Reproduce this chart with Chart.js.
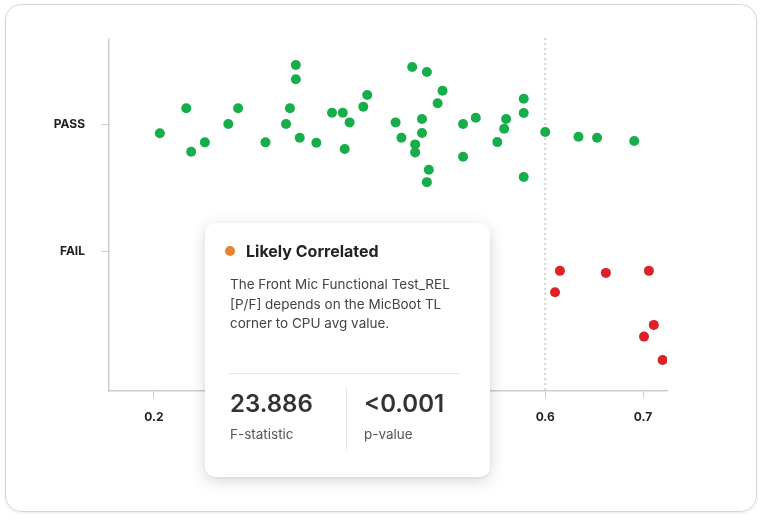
<!DOCTYPE html>
<html>
<head>
<meta charset="utf-8">
<script src="https://cdn.jsdelivr.net/npm/chart.js@4.4.1/dist/chart.umd.min.js"></script>
<style>
  html, body { margin: 0; padding: 0; background: #fff; }
  body { width: 763px; height: 520px; position: relative; overflow: hidden; font-family: Inter, "Noto Sans", sans-serif; }
  .frame {
    position: absolute; left: 5px; top: 4px; width: 750px; height: 506px;
    border: 1px solid #d6d6d6; border-radius: 16px;
    box-shadow: 0 1px 3px rgba(0,0,0,0.08);
  }
  #chart { position: absolute; left: 0; top: 0; }
  .card {
    position: absolute; left: 205px; top: 223px; width: 285px; height: 254px;
    background: #fff; border-radius: 10px;
    box-shadow: 0 4px 16px rgba(0,0,0,0.16), 0 1px 3px rgba(0,0,0,0.06);
    color: #333;
  }
  .card .title { position: absolute; left: 20px; top: 18px; font-size: 16px; font-weight: 700; color: #222; line-height: 20px; }
  .card .dot { position: absolute; left: 20px; top: 23px; width: 10px; height: 10px; border-radius: 50%; background: #e8822e; }
  .card .title span { margin-left: 21px; }
  .card .desc { position: absolute; left: 25px; top: 52px; width: 250px; font-size: 13.5px; line-height: 19.7px; color: #444; white-space: nowrap; }
  .card .sep { position: absolute; left: 24px; top: 150px; width: 231px; height: 1px; background: #e6e6e6; }
  .card .vsep { position: absolute; left: 141px; top: 164px; width: 1px; height: 63px; background: #e6e6e6; }
  .card .num { position: absolute; top: 166px; font-size: 24px; font-weight: 600; color: #333; line-height: 30px; }
  .card .lbl { position: absolute; top: 203px; font-size: 13.5px; color: #555; line-height: 16px; }
</style>
</head>
<body>
<div class="frame"></div>
<canvas id="chart" width="763" height="520"></canvas>
<div class="card">
  <div class="dot"></div>
  <div class="title"><span>Likely Correlated</span></div>
  <div class="desc">The Front Mic Functional Test_REL<br>[P/F] depends on the MicBoot TL<br>corner to CPU avg value.</div>
  <div class="sep"></div>
  <div class="num" style="left:25px">23.886</div>
  <div class="lbl" style="left:25px">F-statistic</div>
  <div class="vsep"></div>
  <div class="num" style="left:159px">&lt;0.001</div>
  <div class="lbl" style="left:159px">p-value</div>
</div>
<script>
// PASS points: x = measured value, y = jittered position around PASS (1)
const passX = [0.206, 0.233, 0.238, 0.252, 0.276, 0.286, 0.314, 0.335, 0.339, 0.345, 0.345,
  0.349, 0.366, 0.382, 0.393, 0.400, 0.395, 0.414, 0.418, 0.447, 0.453, 0.464, 0.479,
  0.495, 0.490, 0.474, 0.474, 0.467, 0.467, 0.481, 0.479, 0.516, 0.529, 0.516, 0.560,
  0.558, 0.551, 0.578, 0.578, 0.578, 0.600, 0.634, 0.653, 0.691];
const passY = [0.927, 1.124, 0.782, 0.856, 1.000, 1.124, 0.856, 1.000, 1.124, 1.465, 1.352,
  0.892, 0.853, 1.089, 1.089, 1.013, 0.803, 1.136, 1.228, 1.013, 0.892, 1.449, 1.409,
  1.262, 1.163, 1.039, 0.929, 0.840, 0.777, 0.640, 0.543, 1.000, 1.050, 0.743, 1.039,
  0.963, 0.858, 1.199, 1.087, 0.583, 0.937, 0.900, 0.892, 0.866];

// FAIL points: jittered below FAIL (0)
const failX = [0.615, 0.610, 0.662, 0.706, 0.711, 0.701, 0.720];
const failY = [-0.155, -0.323, -0.171, -0.155, -0.580, -0.672, -0.856];

const xTicks = [0.2, 0.3, 0.4, 0.5, 0.6, 0.7];
const yTicks = [0, 1];
const yTickLabels = ['FAIL', 'PASS'];
const threshold = 0.6;

const toPoints = (xs, ys) => xs.map((x, i) => ({ x: x, y: ys[i] }));

const thresholdLine = {
  id: 'thresholdLine',
  beforeDatasetsDraw(chart) {
    const { ctx, chartArea, scales } = chart;
    const px = scales.x.getPixelForValue(threshold);
    ctx.save();
    ctx.strokeStyle = '#d2d2d2';
    ctx.lineWidth = 2;
    ctx.setLineDash([2, 3]);
    ctx.beginPath();
    ctx.moveTo(px, chartArea.top - 1);
    ctx.lineTo(px, chartArea.bottom);
    ctx.stroke();
    ctx.restore();
  }
};

const axisColor = '#cdcdcd';
const tickFont = { family: 'Inter', size: 12, weight: '700' };

new Chart(document.getElementById('chart').getContext('2d'), {
  type: 'scatter',
  data: {
    datasets: [
      {
        label: 'PASS',
        data: toPoints(passX, passY),
        backgroundColor: '#17ad4b',
        pointRadius: 5,
        pointBorderWidth: 0,
      },
      {
        label: 'FAIL',
        data: toPoints(failX, failY),
        backgroundColor: '#dc2128',
        pointRadius: 5,
        pointBorderWidth: 0,
      },
    ],
  },
  options: {
    responsive: false,
    animation: false,
    layout: { padding: { left: 0, right: 96, top: 39, bottom: 79 } },
    plugins: { legend: { display: false }, tooltip: { enabled: false } },
    scales: {
      x: {
        type: 'linear',
        min: 0.154,
        max: 0.7245,
        afterBuildTicks: (axis) => { axis.ticks = xTicks.map((v) => ({ value: v })); },
        afterFit: (axis) => { axis.height = 50; },
        ticks: {
          color: '#222',
          font: tickFont,
          padding: 12,
          callback: (v) => v.toFixed(1),
        },
        grid: { drawOnChartArea: false, drawTicks: true, tickLength: 7, color: axisColor },
        border: { color: axisColor, width: 1.5 },
      },
      y: {
        type: 'linear',
        min: -1.1,
        max: 1.669,
        afterBuildTicks: (axis) => { axis.ticks = yTicks.map((v) => ({ value: v })); },
        afterFit: (axis) => { axis.width = 109; },
        ticks: {
          color: '#222',
          font: tickFont,
          padding: 16,
          callback: (v) => yTickLabels[yTicks.indexOf(v)],
        },
        grid: { drawOnChartArea: false, drawTicks: true, tickLength: 8, color: axisColor },
        border: { color: axisColor, width: 1.5 },
      },
    },
  },
  plugins: [thresholdLine],
});
</script>
</body>
</html>
